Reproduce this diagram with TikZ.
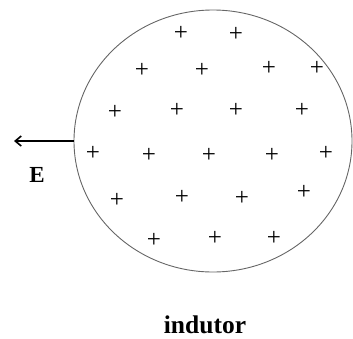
\documentclass[tikz,border=0pt]{standalone}
\usepackage{fontspec}
\setmainfont{Liberation Serif}
\usetikzlibrary{arrows.meta,shapes.geometric}
\begin{document}
\begin{tikzpicture}[x=1pt,y=-1pt,
  plus/.style={inner sep=0pt,font=\fontsize{25}{25}\selectfont},
  lbl/.style={inner sep=0pt,font=\bfseries\fontsize{23}{23}\selectfont}]
\useasboundingbox (0,0) rectangle (353,338);
\node[draw=black!60,line width=0.9pt,ellipse,minimum width=278pt,minimum height=262pt,inner sep=0pt] (ind) at (213,141) {};
\coordinate (tip) at (14,141);
\draw[line width=1.6pt,-{Straight Barb[length=6pt,width=10pt]}] (ind.west) -- (tip);
\node[lbl] (E) at (37,175) {E};
\node[lbl,font=\bfseries\fontsize{25.5}{25.5}\selectfont] (name) at (205,325) {indutor};
\foreach \n/\x/\y in {1/181/33,2/236/34,
  3/142/70,4/202/70,5/269/68,6/317/68,
  7/115/112,8/177/110,9/236/110,10/302/110,
  11/93/153,12/149/155,13/209/155,14/272/155,15/326/153,
  16/117/200,17/182/197,18/242/198,19/304/192,
  20/154/240,21/215/238,22/274/238}
  \node[plus] (p\n) at (\x,\y) {+};
\end{tikzpicture}
\end{document}
